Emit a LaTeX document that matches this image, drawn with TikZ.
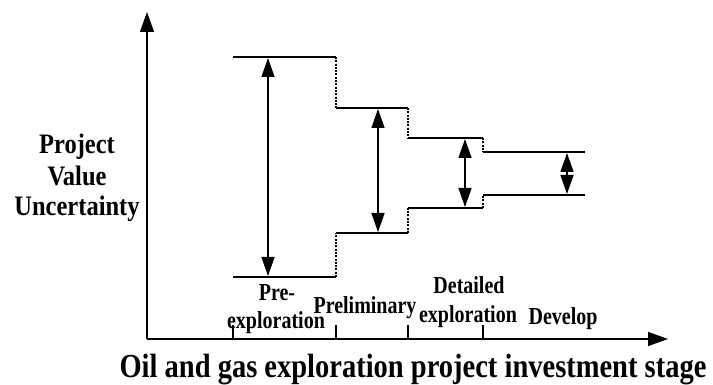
\documentclass[tikz,border=0pt]{standalone}
\usepackage{fontspec}
\setmainfont{Liberation Serif}
\usetikzlibrary{arrows.meta}
\begin{document}
\begin{tikzpicture}[x=1pt,y=-1pt,
  axis/.style={line width=1.4pt,-{Triangle[length=20pt,width=14pt]}},
  level/.style={line width=1.4pt},
  stepline/.style={line width=1.4pt,dash pattern=on 2pt off 1.3pt},
  spread/.style={line width=1.4pt,{Triangle[length=19pt,width=13pt]}-{Triangle[length=19pt,width=13pt]},shorten >=1pt,shorten <=1pt},
  tick/.style={line width=1.2pt},
  lab/.style={font=\fontsize{20}{24}\selectfont\bfseries,inner sep=0pt,anchor=base,yscale=1.22},
  ylab/.style={font=\fontsize{24.5}{31}\selectfont\bfseries,inner sep=0pt,anchor=base,yscale=1.15},
  ttl/.style={font=\fontsize{28.5}{34}\selectfont\bfseries,inner sep=0pt,anchor=base,yscale=1.18}]
\useasboundingbox (0,0) rectangle (713,385);
% axes
\coordinate (O) at (147,339);
\coordinate (Ytop) at (147,12);
\coordinate (Xend) at (668,339);
\draw[axis] (O) -- (Ytop);
\draw[axis] (O) -- (Xend);
% ticks
\foreach \tx/\tn in {233/t1,336/t2,408/t3,483/t4}{
  \coordinate (\tn) at (\tx,339);
  \draw[tick] (\tn) -- ++(0,-14);
}
% upper envelope
\coordinate (u1) at (233,57);  \coordinate (u2) at (336,57);
\coordinate (u3) at (336,108); \coordinate (u4) at (408,108);
\coordinate (u5) at (408,138); \coordinate (u6) at (483,138);
\coordinate (u7) at (483,152); \coordinate (u8) at (585,152);
\draw[level] (u1) -- (u2);
\draw[stepline] (u2) -- (u3);
\draw[level] (u3) -- (u4);
\draw[stepline] (u4) -- (u5);
\draw[level] (u5) -- (u6);
\draw[stepline] (u6) -- (u7);
\draw[level] (u7) -- (u8);
% lower envelope
\coordinate (l1) at (233,277); \coordinate (l2) at (336,277);
\coordinate (l3) at (336,233); \coordinate (l4) at (408,233);
\coordinate (l5) at (408,208); \coordinate (l6) at (483,208);
\coordinate (l7) at (483,195); \coordinate (l8) at (585,195);
\draw[level] (l1) -- (l2);
\draw[stepline] (l2) -- (l3);
\draw[level] (l3) -- (l4);
\draw[stepline] (l4) -- (l5);
\draw[level] (l5) -- (l6);
\draw[stepline] (l6) -- (l7);
\draw[level] (l7) -- (l8);
% spread arrows
\coordinate (a1t) at (268,57);  \coordinate (a1b) at (268,277);
\coordinate (a2t) at (378,108); \coordinate (a2b) at (378,233);
\coordinate (a3t) at (465,138); \coordinate (a3b) at (465,208);
\coordinate (a4t) at (567,152); \coordinate (a4b) at (567,195);
\draw[spread] (a1t) -- (a1b);
\draw[spread] (a2t) -- (a2b);
\draw[spread] (a3t) -- (a3b);
\draw[spread] (a4t) -- (a4b);
% y label
\node[ylab] (yl1) at (77,154) {Project};
\node[ylab] (yl2) at (77,186) {Value};
\node[ylab] (yl3) at (77,216) {Uncertainty};
% stage labels
\node[lab] (s1a) at (277,301) {Pre-};
\node[lab] (s1b) at (276,328) {exploration};
\node[lab] (s2) at (365,313) {Preliminary};
\node[lab] (s3a) at (469,293) {Detailed};
\node[lab] (s3b) at (468,322) {exploration};
\node[lab] (s4) at (563,324) {Develop};
% title
\node[ttl] (title) at (413,377) {Oil and gas exploration project investment stage};
\end{tikzpicture}
\end{document}
